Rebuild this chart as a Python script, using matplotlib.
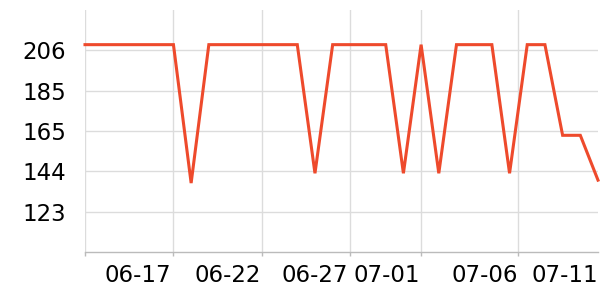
import matplotlib
matplotlib.use("Agg")
import matplotlib.pyplot as plt
import numpy as np

# Data (one point per day, starting 06-14)
dates = ["06-14", "06-15", "06-16", "06-17", "06-18", "06-19", "06-20", "06-21",
         "06-22", "06-23", "06-24", "06-25", "06-26", "06-27", "06-28", "06-29",
         "06-30", "07-01", "07-02", "07-03", "07-04", "07-05", "07-06", "07-07",
         "07-08", "07-09", "07-10", "07-11", "07-12", "07-13"]
values = [208.7, 208.7, 208.7, 208.7, 208.7, 208.7, 138.0, 208.7,
          208.7, 208.7, 208.7, 208.7, 208.7, 143.0, 208.7, 208.7,
          208.7, 208.7, 143.0, 208.7, 143.0, 208.7, 208.7, 208.7,
          143.0, 208.7, 208.7, 162.4, 162.4, 139.5]

x_tick_labels = ["06-17", "06-22", "06-27", "07-01", "07-06", "07-11"]
x_label_pos = [3, 8.05, 13, 17.05, 22.6, 27.1]
x_grid_pos = [0, 5, 10, 15, 19, 24.5]

y_min, y_max = 102.8, 226.4
y_ticks = [123.4, 144.0, 164.6, 185.2, 205.8]
y_tick_labels = ["123", "144", "165", "185", "206"]

fig = plt.figure(figsize=(6, 3), dpi=100)
ax = fig.add_axes([85/600, 48/300, (598-85)/600, (252-10)/300])

x = np.arange(len(values))
ax.plot(x, values, color="#ee4a2c", linewidth=2.2, solid_joinstyle="miter", zorder=3, clip_on=False)

ax.set_xlim(0, len(values) - 1)
ax.set_ylim(y_min, y_max)

# y axis
ax.set_yticks(y_ticks)
ax.set_yticklabels(y_tick_labels)
ax.tick_params(axis="y", length=0, pad=13.5, labelsize=16.5, colors="black")
ax.yaxis.grid(True, color="#dcdcdc", linewidth=1.0)

# x axis: grid ticks (major) and labels (minor)
ax.set_xticks(x_grid_pos)
ax.set_xticklabels([""] * len(x_grid_pos))
ax.set_xticks(x_label_pos, minor=True)
ax.set_xticklabels(x_tick_labels, minor=True)
ax.tick_params(axis="x", which="major", length=3, color="#bbbbbb", width=1)
ax.tick_params(axis="x", which="minor", length=0, pad=9, labelsize=16.5)
ax.xaxis.grid(True, which="major", color="#dcdcdc", linewidth=1.0)
ax.set_axisbelow(True)

for s in ["top", "right", "left"]:
    ax.spines[s].set_visible(False)
ax.spines["bottom"].set_color("#bbbbbb")
ax.spines["bottom"].set_linewidth(1.0)

fig.savefig("out.png", dpi=100)
